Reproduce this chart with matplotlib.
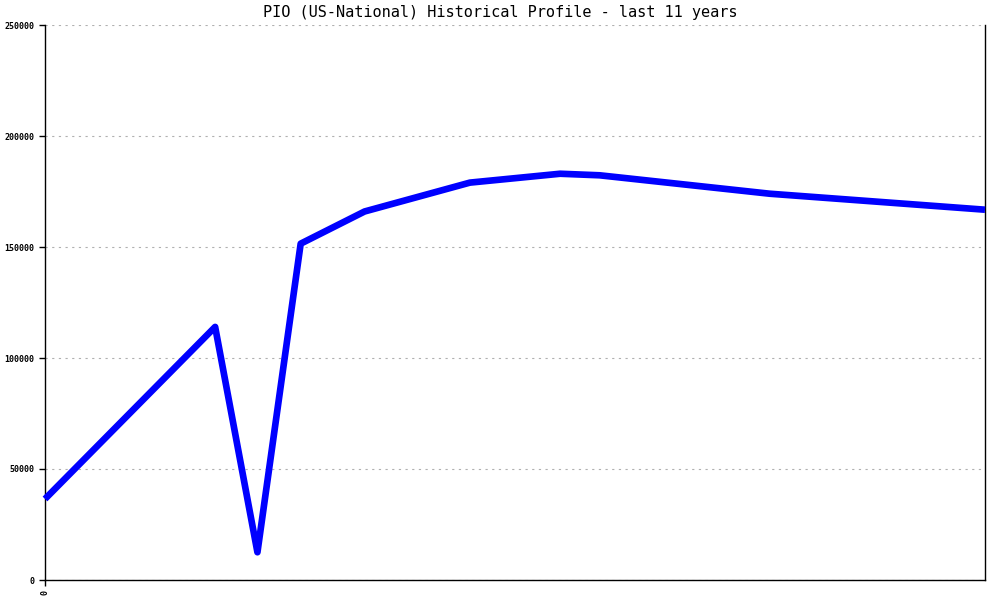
import matplotlib
matplotlib.use("Agg")
import matplotlib.pyplot as plt

# Data (x in years from start)
years = [0.0, 1.81, 2.26, 2.72, 3.40, 4.52, 5.48, 5.90, 7.71, 10.0]
values = [36500, 114000, 12500, 151500, 166000, 179000, 183000, 182300, 174000, 166800]
yticks = [0, 50000, 100000, 150000, 200000, 250000]
title = "PIO (US-National) Historical Profile - last 11 years"

plt.rcParams['font.family'] = ['DejaVu Sans Mono', 'Liberation Mono']

fig = plt.figure(figsize=(10, 6), dpi=100)
ax = fig.add_axes([0.045, 1 - 580 / 600, 0.94, 555 / 600])

ax.plot(years, values, color=(0, 0, 1), linewidth=4.8, clip_on=False,
        solid_joinstyle='round', solid_capstyle='butt', zorder=3)

ax.set_xlim(0, 10)
ax.set_ylim(0, 250000)
ax.set_yticks(yticks)
ax.set_yticklabels([str(v) for v in yticks], fontsize=6, fontweight='bold')
ax.set_xticks([0])
ax.set_xticklabels(["0"], rotation=90, fontsize=6, fontweight='bold')
ax.tick_params(axis='both', direction='out', length=4, width=1, color='black')

ax.yaxis.grid(True, linestyle=(0, (2, 4)), color='#b0b0b0', linewidth=0.8)
ax.xaxis.grid(False)
ax.set_axisbelow(True)

ax.spines['top'].set_visible(False)
for s in ['left', 'bottom', 'right']:
    ax.spines[s].set_color('black')
    ax.spines[s].set_linewidth(1)

fig.text(0.5, 1 - 13 / 600, title, ha='center', va='center', fontsize=11)

fig.savefig("out.png", dpi=100)
